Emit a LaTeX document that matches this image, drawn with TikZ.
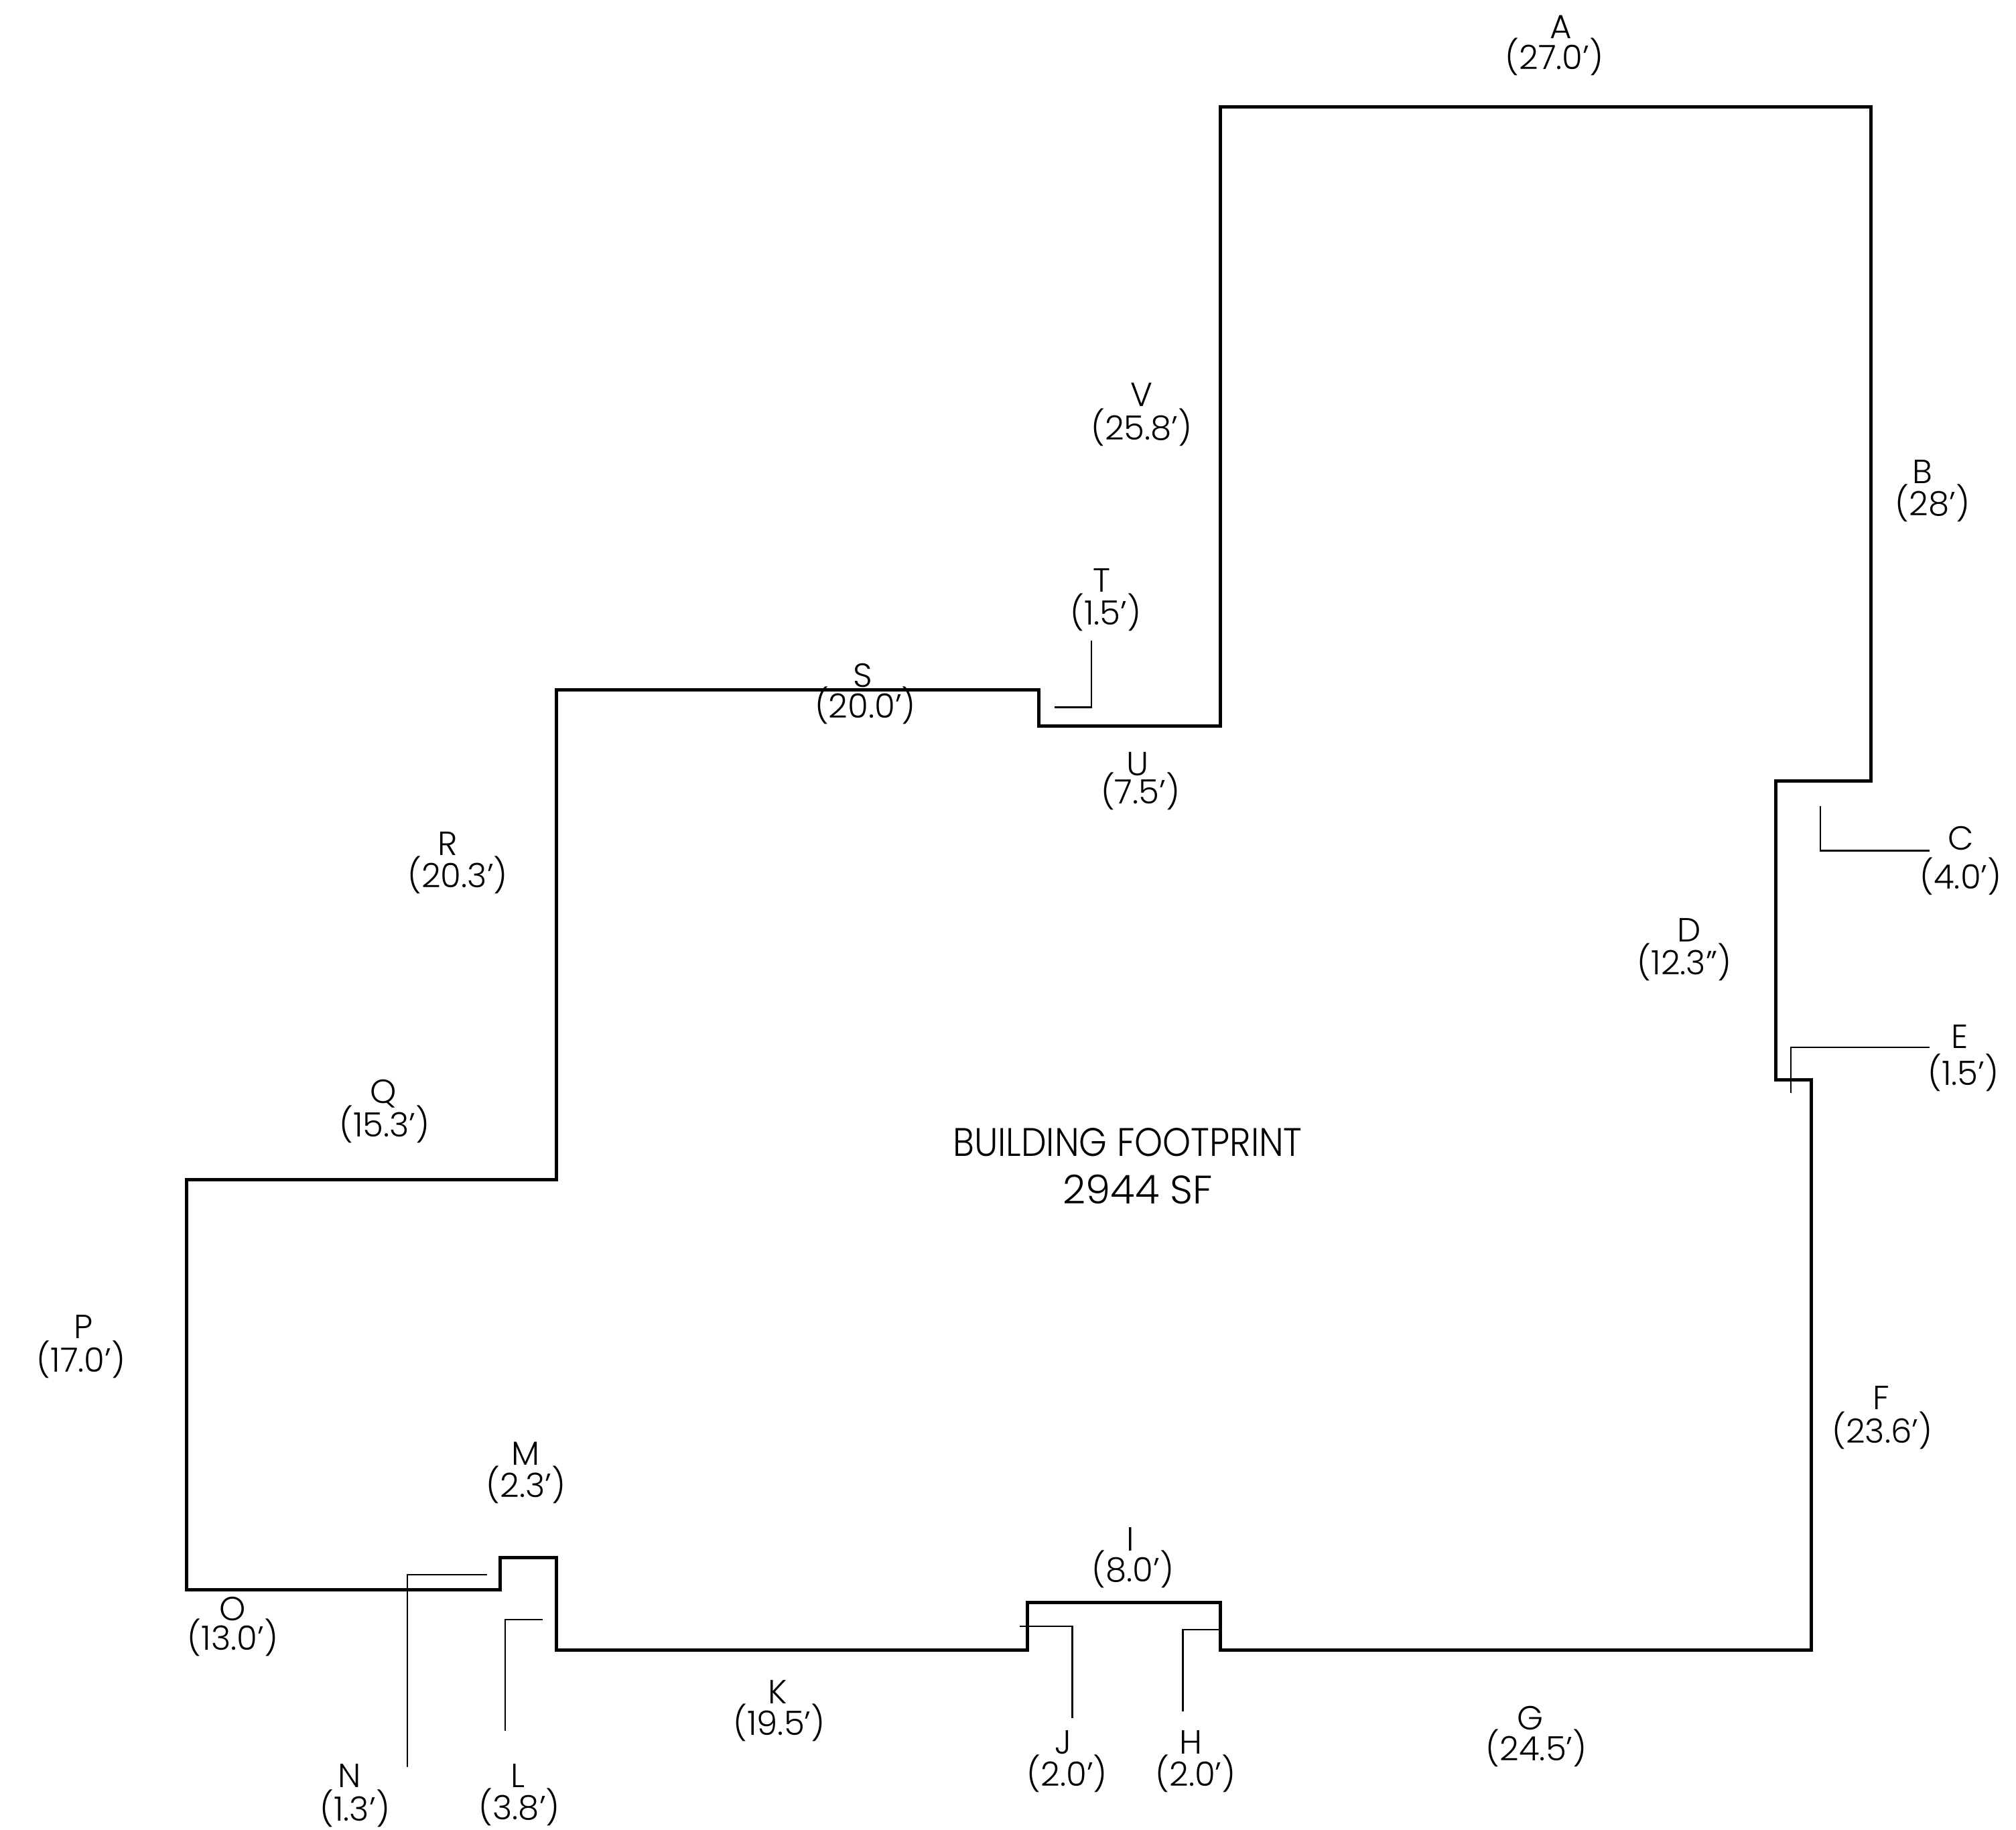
\documentclass[tikz,border=0pt]{standalone}
\usepackage{xcolor}
\usepackage{fontspec}
\setmainfont{Poppins Light}[Ligatures=ResetAll]

\tikzset{
	wall/.style = {line width=0.75pt, line join=miter},
	leader/.style = {line width=0.32pt},
	dimtext/.style = {inner sep=0pt, text height=5.2pt, text depth=0pt, font=\fontsize{7.4}{8}\selectfont},
	areatext/.style = {inner sep=0pt, text height=6.2pt, text depth=0pt, font=\fontsize{8.8}{10}\selectfont},
	narrowtext/.style = {areatext, font=\fontsize{8.8}{10}\selectfont\addfontfeature{FakeStretch=0.9}}
}

\begin{document}
\begin{tikzpicture}[x=0.01cm, y=-0.01cm]
				% page size of the drawing
				\useasboundingbox (0,0) rectangle (1568,1423);
				
				% outline of the building
				\draw[wall]
				(949,83) -- (1455,83) -- (1455,607.5) -- (1381,607.5) -- (1381,839.5)
				-- (1409,839.5) -- (1409,1283) -- (949,1283) -- (949,1246)
				-- (799,1246) -- (799,1283) -- (433,1283) -- (433,1211.5)
				-- (389,1211.5) -- (389,1236.5) -- (145,1236.5) -- (145,917.5)
				-- (433,917.5) -- (433,536.5) -- (808,536.5) -- (808,564.5)
				-- (949,564.5) -- cycle;
				
				% leader lines, up or down first and then across
				\foreach \seg/\ax/\ay/\bx/\by in {
					C/1416/627/1501/661.5,
					E/1393/850/1501/814.5,
					H/920/1331/950/1267.5,
					J/834/1336/793/1264.5,
					L/393/1346/422/1259.5,
					N/317/1374/379/1224.5,
					T/849/498/820/550}
				{
					\coordinate (start\seg) at (\ax,\ay);
					\coordinate (end\seg) at (\bx,\by);
					\draw[leader] (start\seg) |- (end\seg);
				}
				
				% letter and length of each side
				\foreach \seg/\len/\lx/\ly/\vx/\vy in {
					A/27.0'/1214/21/1209/45,
					B/28'/1495/367/1503/392,
					C/4.0'/1525/652/1525/682,
					D/12.3"/1314/723/1310/749,
					E/1.5'/1524/806/1527/835,
					F/23.6'/1463/1087/1464/1113,
					G/24.5'/1190/1336/1195/1360,
					H/2.0'/926/1355/930/1380,
					I/8.0'/879/1197/881/1221,
					J/2.0'/827/1355/830/1380,
					K/19.5'/605/1316/606/1340,
					L/3.8'/403/1381/404/1406,
					M/2.3'/409/1130/409/1155,
					N/1.3'/272/1381/276/1407,
					O/13.0'/181/1251/181/1274,
					P/17.0'/65/1032/63/1058,
					Q/15.3'/298/849/299/875,
					R/20.3'/348/656/356/681,
					S/20.0'/671/525/673/549,
					T/1.5'/857/451/860/477,
					U/7.5'/885/594/887/616,
					V/25.8'/888/307/888/333}
				{
					\node[dimtext] (name\seg) at (\lx,\ly) {\seg};
					\node[dimtext] (size\seg) at (\vx,\vy) {(\len)};
				}
				
				% area in the middle
				\node[narrowtext] (title) at (877,888) {BUILDING FOOTPRINT};
				\node[areatext] (area) at (885,925) {2944 SF};
				
			\end{tikzpicture}
\end{document}
